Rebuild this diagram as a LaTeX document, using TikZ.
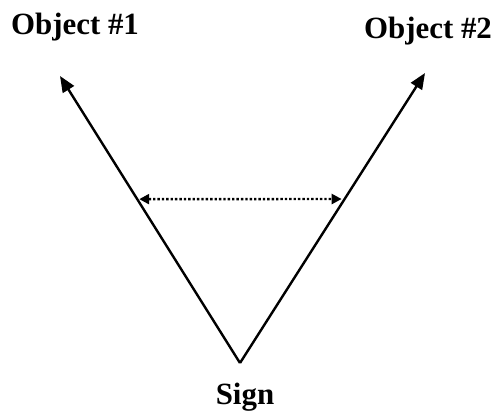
\documentclass[tikz,border=0pt]{standalone}
\usepackage{fontspec}
\setmainfont{Liberation Serif}
\usetikzlibrary{arrows.meta,calc}
\begin{document}
\begin{tikzpicture}[x=1bp,y=-1bp,
  lbl/.style={font=\bfseries\fontsize{31}{34}\selectfont, inner sep=0pt},
  mainarrow/.style={line width=2.4bp, -{Triangle[length=16bp,width=13bp]}},
  dotarrow/.style={line width=2.4bp, dotted, {Triangle[length=10bp,width=10bp]}-{Triangle[length=10bp,width=10bp]}}]
\useasboundingbox (0,0) rectangle (497,413);
\coordinate (v) at (240,363);
\coordinate (t1) at (60,76);
\coordinate (t2) at (425,73);
\node[lbl] (o1) at (75,27) {Object \#1};
\node[lbl] (o2) at (428,31) {Object \#2};
\node[lbl] (sign) at (245,397) {Sign};
\draw[mainarrow] (v) -- (t1);
\draw[mainarrow] (v) -- (t2);
\coordinate (d1) at ($(v)!0.571!(t1)$);
\coordinate (d2) at ($(v)!0.5655!(t2)$);
\draw[dotarrow] ($(d1)+(2,0)$) -- ($(d2)+(-3,0)$);
\end{tikzpicture}
\end{document}
